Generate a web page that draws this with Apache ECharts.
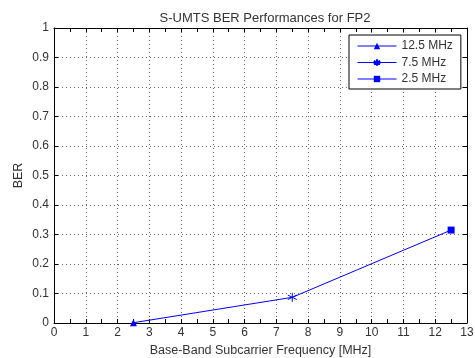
<!DOCTYPE html>
<html><head><meta charset="utf-8">
<script src="https://cdn.jsdelivr.net/npm/echarts@6/dist/echarts.min.js"></script>
<style>html,body{margin:0;padding:0;background:#fff}#c{width:475px;height:358px}</style>
</head><body><div id="c"></div>
<script>
const titleText = 'S-UMTS BER Performances for FP2';
const xName = 'Base-Band Subcarrier Frequency [MHz]';
const yName = 'BER';
const freqs = [2.5, 7.5, 12.5];
const ber = [0.001, 0.087, 0.315];
const legendNames = ['12.5 MHz', '7.5 MHz', '2.5 MHz'];
const markerSymbols = ['triangle', 'path://M0,-5L0,5M-4.33,-2.5L4.33,2.5M-4.33,2.5L4.33,-2.5', 'rect'];
const markerSizes = [7, 9, 7];

const BLUE = '#0000ff';
const TXT = '#333';
const FONT = 'Liberation Sans, Arial, sans-serif';
const chart = echarts.init(document.getElementById('c'));

const axisCommon = {
  axisLine: {show: true, onZero: false, lineStyle: {color: '#000', width: 1}},
  axisTick: {show: true, inside: true, length: 4, lineStyle: {color: '#000'}},
  minorTick: {show: true, splitNumber: 2, length: 4, lineStyle: {color: '#000'}},
};

const series = [{
  type: 'line', name: '_conn', silent: true, showSymbol: false, symbol: 'none',
  data: freqs.map((f, i) => [f, ber[i]]),
  lineStyle: {color: BLUE, width: 1}, z: 2, legendHoverLink: false
}];
legendNames.forEach((n, i) => {
  const isStar = i === 1;
  series.push({
    type: 'line', name: n, symbol: markerSymbols[i], symbolSize: markerSizes[i],
    showSymbol: true, data: [[freqs[i], ber[i]]],
    lineStyle: {color: BLUE, width: 1},
    itemStyle: isStar ? {color: 'none', borderColor: BLUE, borderWidth: 1} : {color: BLUE, borderColor: BLUE, borderWidth: 0},
    z: 3
  });
});

chart.setOption({
  backgroundColor: '#fff',
  animation: false,
  title: {text: titleText, left: 260, textAlign: 'center', top: 7,
    textStyle: {fontFamily: FONT, fontSize: 13, fontWeight: 'normal', color: TXT}},
  grid: {left: 54, right: 8, top: 28, bottom: 35, containLabel: false, outerBoundsMode: 'none'},
  legend: {
    data: legendNames, orient: 'vertical', left: 349, top: 35,
    itemWidth: 39, itemHeight: 8, itemGap: 4.5,
    padding: [5, 8, 4, 8],
    borderColor: '#000', borderWidth: 1, backgroundColor: '#fff',
    lineStyle: {width: 1},
    textStyle: {fontFamily: FONT, fontSize: 12, color: TXT, lineHeight: 12}
  },
  xAxis: [
    Object.assign({type: 'value', min: 0, max: 13, interval: 1, position: 'bottom',
      name: xName, nameLocation: 'middle', nameGap: 21, nameMoveOverlap: false,
      nameTextStyle: {fontFamily: FONT, fontSize: 12.5, color: TXT},
      axisLabel: {fontFamily: FONT, fontSize: 12, color: TXT, margin: 4},
      splitLine: {show: true, lineStyle: {color: '#666', type: [1, 3], width: 1}}}, axisCommon),
    Object.assign({type: 'value', min: 0, max: 13, interval: 1, position: 'top',
      axisLabel: {show: false}, splitLine: {show: false}}, axisCommon)
  ],
  yAxis: [
    Object.assign({type: 'value', min: 0, max: 1, interval: 0.1, position: 'left',
      name: yName, nameLocation: 'middle', nameGap: 29, nameRotate: 90, nameMoveOverlap: false,
      nameTextStyle: {fontFamily: FONT, fontSize: 12.5, color: TXT},
      axisLabel: {fontFamily: FONT, fontSize: 12, color: TXT, margin: 5},
      splitLine: {show: true, lineStyle: {color: '#666', type: [1, 3], width: 1}}},
      axisCommon, {minorTick: {show: false}}),
    Object.assign({type: 'value', min: 0, max: 1, interval: 0.1, position: 'right',
      axisLabel: {show: false}, splitLine: {show: false}}, axisCommon, {minorTick: {show: false}})
  ],
  series: series
});
</script></body></html>
